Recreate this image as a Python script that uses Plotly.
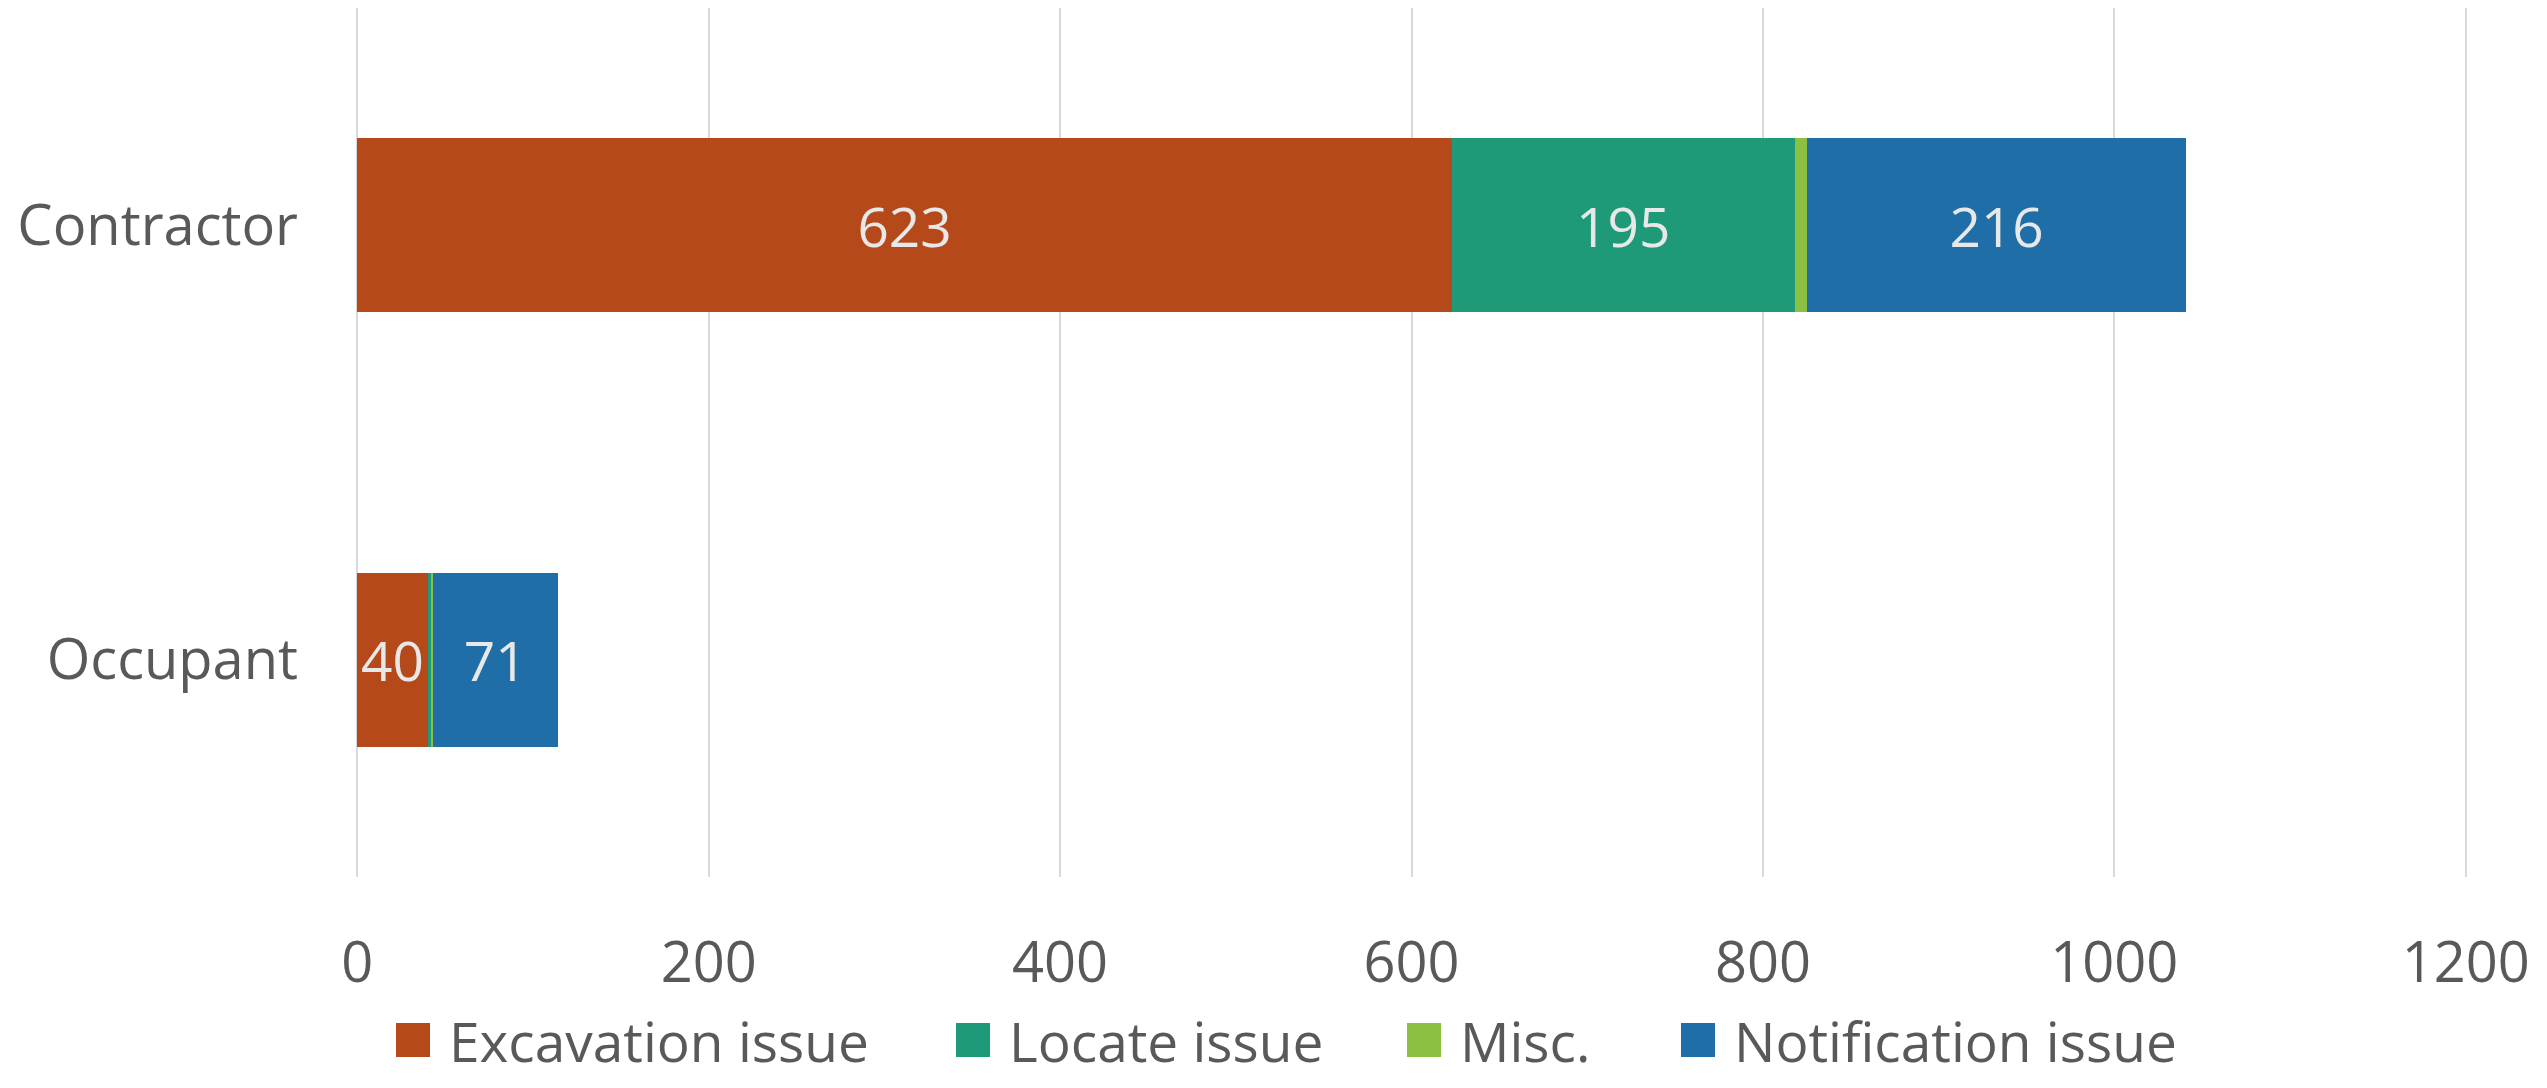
import plotly.graph_objects as go

# categories (top to bottom)
groups = ["Contractor", "Occupant"]

# series values per group
excavation = [623, 40]
locate = [195, 2]
misc = [7, 1]
notification = [216, 71]

series_names = ["Excavation issue", "Locate issue", "Misc.", "Notification issue"]
series_values = [excavation, locate, misc, notification]
series_colors = ["#B5491A", "#1E9A79", "#8CC043", "#1F6EA8"]

x_ticks = [0, 200, 400, 600, 800, 1000, 1200]

FONT = "Open Sans"
GREY = "#595959"

# page has an 8px body margin, so the figure is sized to sit inside it
W, H = 2531, 1072
ML, MR, MT, MB = 344, 68, 0, 203
PLOT_W = W - ML - MR
PLOT_H = H - MT - MB


def page_x(px):
    return (px - 8 - ML) / PLOT_W


def page_y(py):
    return (PLOT_H - (py - 8 - MT)) / PLOT_H


fig = go.Figure()
for name, vals, color in zip(series_names, series_values, series_colors):
    # only label segments wide enough to hold a number
    labels = [str(v) if v >= 10 else "" for v in vals]
    fig.add_trace(go.Bar(
        y=groups, x=vals, name=name, orientation="h",
        marker=dict(color=color, line=dict(width=0)),
        text=labels, textposition="inside", insidetextanchor="middle",
        constraintext="none",
        textfont=dict(family=FONT, size=55, color="#E8E8E8"),
        hoverinfo="x+name",
    ))

# legend drawn by hand so the swatches match the text height
legend_sym_x = [396, 956, 1407, 1681]
LEG_Y = 1040  # vertical centre of the legend row (page px)
shapes, annots = [], []
for name, color, sx in zip(series_names, series_colors, legend_sym_x):
    shapes.append(dict(type="rect", xref="paper", yref="paper",
                       x0=page_x(sx), x1=page_x(sx + 34),
                       y0=page_y(LEG_Y + 17), y1=page_y(LEG_Y - 17),
                       fillcolor=color, line=dict(width=0)))
    annots.append(dict(text=name, xref="paper", yref="paper",
                       x=page_x(sx + 52), y=page_y(LEG_Y),
                       xanchor="left", yanchor="middle", showarrow=False,
                       borderpad=0,
                       font=dict(family=FONT, size=55, color=GREY)))

fig.update_layout(
    barmode="stack",
    bargap=0.6,
    width=W, height=H,
    margin=dict(l=ML, r=MR, t=MT, b=MB),
    paper_bgcolor="white", plot_bgcolor="white",
    font=dict(family=FONT, size=55, color=GREY),
    showlegend=False,
    shapes=shapes, annotations=annots,
)
fig.update_xaxes(
    range=[-3, 1203], tickvals=x_ticks, showgrid=True, gridcolor="#D9D9D9",
    gridwidth=2, zeroline=False, showline=False, ticks="",
    tickfont=dict(family=FONT, size=56, color=GREY), ticklabelstandoff=48,
)
fig.update_yaxes(
    autorange="reversed", showgrid=False, zeroline=False, showline=False,
    ticks="", tickfont=dict(family=FONT, size=56, color=GREY),
    ticklabelstandoff=53,
)

fig.write_html("out.html")
